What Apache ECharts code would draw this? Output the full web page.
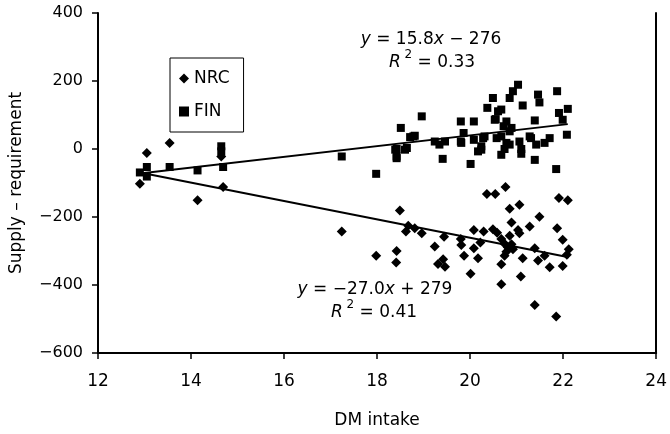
<!DOCTYPE html>
<html>
<head>
<meta charset="utf-8">
<script src="https://cdn.jsdelivr.net/npm/echarts@6/dist/echarts.min.js"></script>
<style>html,body{margin:0;padding:0;background:#fff}#c{width:670px;height:434px}</style>
</head>
<body>
<div id="c"></div>
<script>
const xTicks = [12, 14, 16, 18, 20, 22, 24];
const yTicks = [-600, -400, -200, 0, 200, 400];
const seriesNames = ['NRC', 'FIN'];
const nrcData = [
  [12.9,-102],[13.05,-12],[13.54,18],[14.14,-151],[14.69,-112],[14.65,-22],
  [17.24,-243],[17.98,-314],[18.42,-300],[18.41,-334],[18.49,-181],[18.62,-243],[18.67,-226],[18.81,-233],
  [18.96,-248],[19.24,-287],[19.31,-338],[19.42,-324],[19.46,-346],[19.44,-258],[19.80,-265],[19.81,-282],
  [19.87,-314],[20.01,-367],[20.08,-238],[20.08,-292],[20.17,-321],
  [20.36,-132],[20.54,-132],[20.76,-112],[20.85,-176],[21.06,-164],[21.49,-199],[21.91,-144],[22.10,-151],
  [20.89,-216],[21.28,-228],[21.87,-233],[20.29,-243],[20.49,-236],[20.58,-246],[21.03,-238],[21.06,-248],
  [20.85,-255],[20.67,-265],[21.99,-267],[20.22,-275],[20.74,-279],[20.81,-289],[20.92,-295],[21.39,-292],
  [22.12,-295],[22.08,-311],[20.74,-314],[21.13,-321],[21.46,-328],[21.60,-314],[21.71,-348],[21.99,-344],
  [20.67,-339],[20.67,-398],[21.09,-375],[21.39,-459],[21.85,-493],[20.78,-302],[20.89,-280]
];
const finData = [
  [12.9,-69],[13.05,-53],[13.05,-81],[13.54,-53],[14.14,-63],[14.69,-53],[14.65,8],[14.65,-7],
  [17.24,-22],[17.98,-73],[18.42,-22],[18.42,0],[18.51,62],[18.64,3],[18.71,35],[18.81,39],[18.96,96],
  [19.24,22],[19.34,13],[19.46,22],[19.41,-29],[19.80,81],[19.80,22],[19.86,47],[20.08,81],[20.01,-44],
  [20.08,27],[20.17,-7],[20.24,8],[20.28,32],[20.37,121],[20.49,150],[20.53,86],[20.60,111],[20.67,116],
  [20.55,88],[20.67,37],[20.67,-17],[20.78,81],[20.85,150],[20.92,170],[21.03,189],[20.89,62],[20.85,13],
  [20.78,18],[21.10,-14],[21.13,128],[21.28,37],[21.39,84],[21.39,-32],[21.46,160],[21.49,137],[21.42,13],
  [21.60,18],[21.71,32],[21.87,170],[21.85,-59],[21.91,106],[21.99,86],[22.10,118],[22.08,42],[19.81,18],
  [20.72,67],[20.85,52],[20.57,32],[21.06,22],[21.31,32],[20.74,0],[21.10,0],[20.24,-2],[18.78,37],
  [18.39,-2],[18.60,-2],[18.42,-27],[20.31,37]
];
// regression equations as printed: [slope, intercept]
const nrcFit = [-27.0, 279];
const finFit = [15.8, -276];
const nrcR2 = 0.41;
const finR2 = 0.33;

function fitLine(data, fit) {
  const xs = data.map(d => d[0]);
  const x0 = Math.min(...xs), x1 = Math.max(...xs);
  return [[x0, fit[0] * x0 + fit[1]], [x1, fit[0] * x1 + fit[1]]];
}
function fmtNum(v) { return (v < 0 ? '\u2212' : '') + Math.abs(v); }
function eqText(fit) {
  const a = fit[0], b = fit[1];
  return '{n|}{i|y}{n| = ' + (a < 0 ? '\u2212' : '') + Math.abs(a).toFixed(1) + '}{i|x}{n| ' + (b < 0 ? '\u2212 ' : '+ ') + Math.abs(b) + '}';
}
function r2Text(r) {
  return '{i|R}{sup| 2}{n| = ' + r.toFixed(2) + '}';
}

const FONT = 'DejaVu Sans';
const rich = {
  n: { fontSize: 17, fontFamily: FONT, color: '#000', lineHeight: 22, verticalAlign: 'bottom' },
  i: { fontStyle: 'italic', fontSize: 17, fontFamily: FONT, color: '#000', lineHeight: 22, verticalAlign: 'bottom' },
  sup: { fontSize: 12, fontFamily: FONT, color: '#000', lineHeight: 22, verticalAlign: 'top' }
};

const chart = echarts.init(document.getElementById('c'), null, { renderer: 'canvas' });
chart.setOption({
  animation: false,
  backgroundColor: '#fff',
  grid: { left: 97, right: 13, top: 13, bottom: 81 },
  legend: {
    data: seriesNames,
    orient: 'vertical',
    left: 170, top: 58,
    padding: [12, 14, 12, 9],
    itemGap: 16,
    itemWidth: 10, itemHeight: 10,
    borderColor: '#000', borderWidth: 1,
    textStyle: { fontFamily: FONT, fontSize: 17, color: '#000' }
  },
  xAxis: {
    type: 'value', min: xTicks[0], max: xTicks[xTicks.length - 1], interval: 2,
    name: 'DM intake', nameLocation: 'middle', nameGap: 59,
    nameTextStyle: { fontFamily: FONT, fontSize: 17, color: '#000' },
    axisLine: { onZero: false, lineStyle: { color: '#000', width: 2 } },
    axisTick: { length: 6, lineStyle: { color: '#000', width: 1.5 } },
    axisLabel: { fontFamily: FONT, fontSize: 17, color: '#000', margin: 20 },
    splitLine: { show: false }
  },
  yAxis: [{
    type: 'value', min: yTicks[0], max: yTicks[yTicks.length - 1], interval: 200,
    name: 'Supply \u2013 requirement', nameLocation: 'middle', nameGap: 73,
    nameTextStyle: { fontFamily: FONT, fontSize: 17, color: '#000' },
    axisLine: { show: true, onZero: false, lineStyle: { color: '#000', width: 2 } },
    axisTick: { show: true, length: 6, lineStyle: { color: '#000', width: 1.5 } },
    axisLabel: { fontFamily: FONT, fontSize: 16, color: '#000', margin: 15, formatter: fmtNum },
    splitLine: { show: false }
  }, {
    type: 'value', min: yTicks[0], max: yTicks[yTicks.length - 1], interval: 200, position: 'right',
    axisLine: { show: true, onZero: false, lineStyle: { color: '#000', width: 2 } },
    axisTick: { show: false }, axisLabel: { show: false }, splitLine: { show: false }
  }],
  series: [
    { name: 'NRC', type: 'scatter', symbol: 'diamond', symbolSize: 10, itemStyle: { color: '#000', opacity: 1 }, data: nrcData, z: 3 },
    { name: 'FIN', type: 'scatter', symbol: 'rect', symbolSize: 8, itemStyle: { color: '#000', opacity: 1 }, data: finData, z: 3 },
    { name: 'NRC fit', type: 'line', data: fitLine(nrcData, nrcFit), symbol: 'none', lineStyle: { color: '#000', width: 2 }, z: 4 },
    { name: 'FIN fit', type: 'line', data: fitLine(finData, finFit), symbol: 'none', lineStyle: { color: '#000', width: 2 }, z: 4 }
  ],
  graphic: [
    { type: 'text', x: 431, y: 37, style: { text: eqText(finFit), rich: rich, font: '17px ' + FONT, fill: '#000', align: 'center', verticalAlign: 'middle' } },
    { type: 'text', x: 432, y: 60, style: { text: r2Text(finR2), rich: rich, font: '17px ' + FONT, fill: '#000', align: 'center', verticalAlign: 'middle' } },
    { type: 'text', x: 375, y: 287, style: { text: eqText(nrcFit), rich: rich, font: '17px ' + FONT, fill: '#000', align: 'center', verticalAlign: 'middle' } },
    { type: 'text', x: 374, y: 310, style: { text: r2Text(nrcR2), rich: rich, font: '17px ' + FONT, fill: '#000', align: 'center', verticalAlign: 'middle' } }
  ]
});
</script>
</body>
</html>
